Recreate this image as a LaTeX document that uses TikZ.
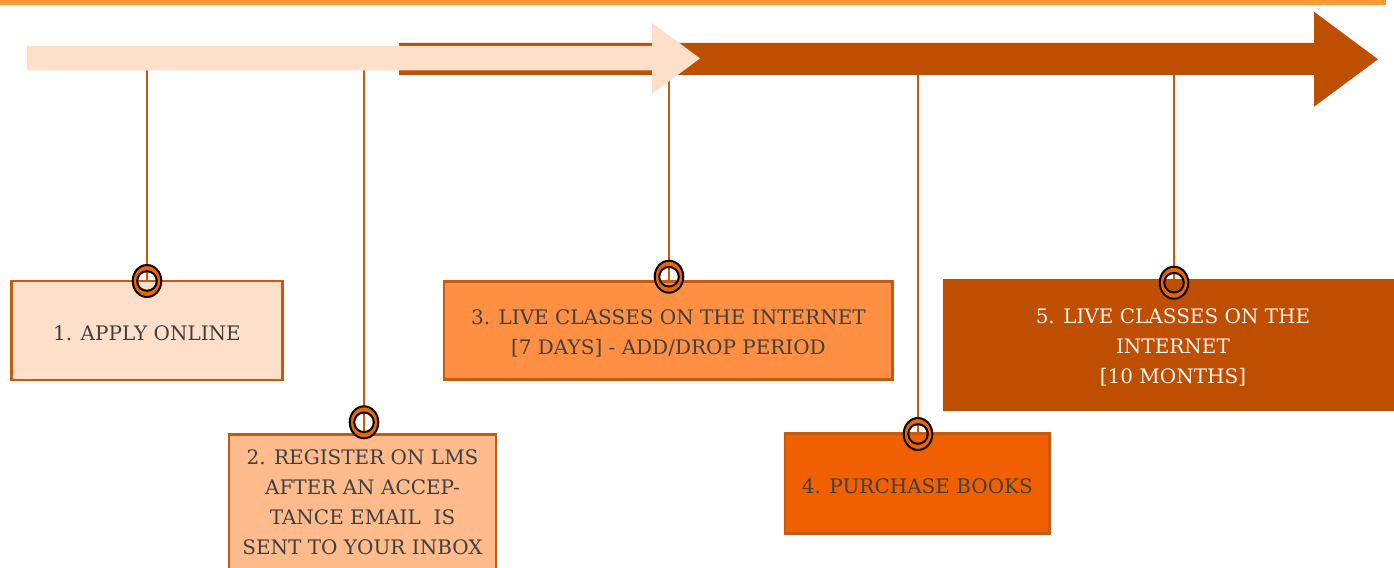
\documentclass[tikz,border=0pt]{standalone}
\usepackage{fontspec}
\setmainfont{DejaVu Serif}
\definecolor{topbar}{HTML}{FF9933}
\definecolor{peach}{HTML}{FEE0CA}
\definecolor{salmon}{HTML}{FFBB8C}
\definecolor{midorange}{HTML}{FF8F42}
\definecolor{brightorange}{HTML}{F06000}
\definecolor{darkorange}{HTML}{BF4F00}
\definecolor{edge}{HTML}{C55A11}
\definecolor{ringfill}{HTML}{F06400}
\definecolor{txt}{HTML}{404040}
\definecolor{txtlight}{HTML}{F2F2F2}
\begin{document}
\begin{tikzpicture}[x=0.75pt,y=-0.75pt,
  stepbox/.style={draw=edge,line width=2pt,inner sep=0pt},
  steptext/.style={align=center,inner sep=0pt,
    font=\fontsize{15}{22.5}\selectfont,text=txt},
  conn/.style={draw=edge,line width=1.1pt},
  ring/.style={fill=ringfill,draw=black,line width=1.5pt,even odd rule}]
\useasboundingbox (0,0) rectangle (1394,567);
% top bar
\fill[topbar] (0,0) rectangle (1386,5);
% anchor points on the arrows
\coordinate (a1) at (147,70);
\coordinate (a2) at (364,70);
\coordinate (a3) at (669,75);
\coordinate (a4) at (918,75);
\coordinate (a5) at (1174,75);
% ring centres
\coordinate (r1) at (147,281);
\coordinate (r2) at (364,422.3);
\coordinate (r3) at (669,276.7);
\coordinate (r4) at (918,434);
\coordinate (r5) at (1174,282.7);
% boxes (drawn later, positions needed for connectors)
\path (147,330.5) node[stepbox,draw=none,minimum width=201pt,minimum height=72.3pt] (b1) {};
\path (362.5,434.3) node[stepbox,draw=none,minimum width=198.4pt,minimum height=101.5pt,anchor=north] (b2) {};
\path (668.4,330.5) node[stepbox,draw=none,minimum width=334.5pt,minimum height=71.25pt] (b3) {};
\path (917.4,483.3) node[stepbox,draw=none,minimum width=196.5pt,minimum height=73pt] (b4) {};
\path (1173,345) node[stepbox,draw=none,minimum width=343.5pt,minimum height=97.5pt] (b5) {};
% connectors
\foreach \i in {1,...,5} \draw[conn] (a\i) -- (a\i |- b\i.north);
% arrows
\fill[darkorange] (399,43) -- (1314,43) -- (1314,11.7) -- (1378,59.3)
  -- (1314,106.7) -- (1314,75) -- (399,75) -- cycle;
\fill[peach] (27,46) -- (652,46) -- (652,22.7) -- (700,58.4)
  -- (652,94) -- (652,70.5) -- (27,70.5) -- cycle;
% box outlines and fills
\draw[stepbox,fill=peach] (b1.north west) rectangle (b1.south east);
\draw[stepbox,fill=salmon] (b2.north west) rectangle (b2.south east);
\draw[stepbox,fill=midorange] (b3.north west) rectangle (b3.south east);
\draw[stepbox,fill=brightorange] (b4.north west) rectangle (b4.south east);
\fill[darkorange] (b5.north west) rectangle (b5.south east);
% texts
\node[steptext] (t1) at ([yshift=-2pt]b1.center) {1. APPLY ONLINE};
\node[steptext,anchor=north] (t2) at ([yshift=-11pt]b2.north)
  {2. REGISTER ON LMS\\AFTER AN ACCEP-\\TANCE EMAIL\ \ IS\\SENT TO YOUR INBOX};
\node[steptext] (t3) at ([yshift=-2.2pt]b3.center)
  {3. LIVE CLASSES ON THE INTERNET\\{[}7 DAYS{]} - ADD/DROP PERIOD};
\node[steptext] (t4) at ([yshift=-2pt]b4.center) {4. PURCHASE BOOKS};
\node[steptext,text=txtlight] (t5) at ([yshift=-2pt]b5.center)
  {5. LIVE CLASSES ON THE\\INTERNET\\{[}10 MONTHS{]}};
% rings
\foreach \i in {1,...,5}
  \path[ring] (r\i) ellipse [x radius=14.3, y radius=16]
              (r\i) ellipse [x radius=9.8, y radius=9.8];
\end{tikzpicture}
\end{document}
